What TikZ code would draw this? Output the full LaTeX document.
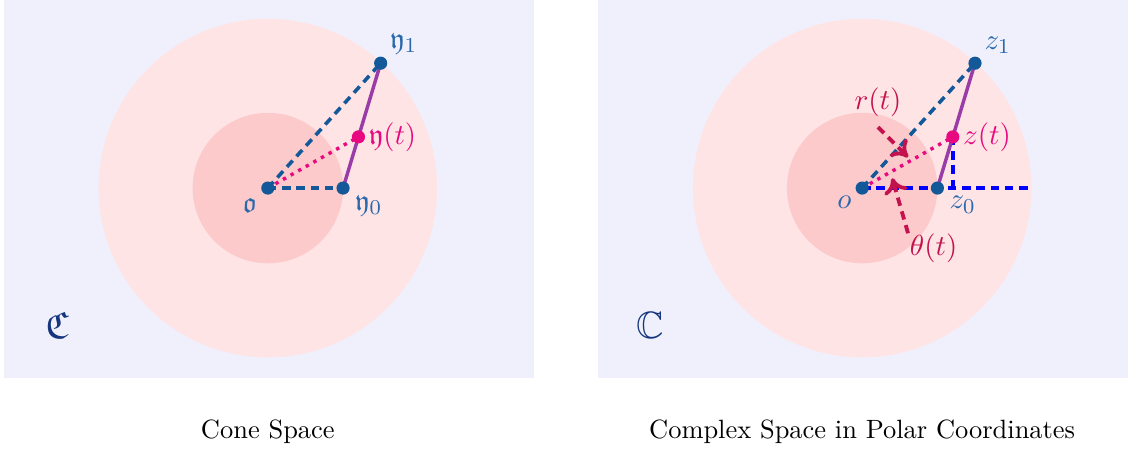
\documentclass[tikz,border=0pt]{standalone}
\usepackage{amssymb}
\usetikzlibrary{arrows.meta, positioning, calc}
\definecolor{lavandafondo}{HTML}{F0F0FD}
\definecolor{rosaclaro}{HTML}{FEE4E5}
\definecolor{rosamedio}{HTML}{FDCACB}
\definecolor{azulpunto}{HTML}{13599A}
\definecolor{azuletiqueta}{HTML}{2A68AC}
\definecolor{magentapunto}{HTML}{E8087F}
\definecolor{moradocamino}{HTML}{9A3CA7}
\definecolor{carmesipolar}{HTML}{C4124F}
\definecolor{azulmarino}{HTML}{16357F}
\colorlet{colFondo}{lavandafondo}
\colorlet{colDiscoExt}{rosaclaro}
\colorlet{colDiscoInt}{rosamedio}
\colorlet{colPunto}{azulpunto}
\colorlet{colEtiqueta}{azuletiqueta}
\colorlet{colMagenta}{magentapunto}
\colorlet{colCamino}{moradocamino}
\colorlet{colPolar}{carmesipolar}
\colorlet{colEje}{blue}
\colorlet{colEspacio}{azulmarino}
\tikzset{
  panelFondo/.style={fill=colFondo, draw=none},
  discoExt/.style={fill=colDiscoExt, draw=none},
  discoInt/.style={fill=colDiscoInt, draw=none},
  puntoBase/.style={circle, fill=colPunto, inner sep=0pt, minimum size=1.75mm},
  puntoMedio/.style={puntoBase, fill=colMagenta},
  lineaRadio/.style={line width=1.35pt, dash pattern=on 3.2pt off 2.2pt, colPunto},
  lineaCamino/.style={line width=1.3pt, colCamino},
  lineaPunteada/.style={line width=1.3pt, dotted, colMagenta},
  lineaEje/.style={line width=1.45pt, dash pattern=on 3.2pt off 2.2pt, colEje},
  flechaPolar/.style={-{To[length=2mm, width=3.2mm]}, line width=1.45pt,
    dash pattern=on 3.2pt off 2.2pt, colPolar},
  etiquetaBase/.style={font=\fontsize{11}{13}\selectfont, inner sep=1pt},
  etiquetaPunto/.style={etiquetaBase, text=colEtiqueta},
  etiquetaMedio/.style={etiquetaBase, text=colMagenta},
  etiquetaPolar/.style={etiquetaBase, text=colPolar},
  etiquetaEspacio/.style={font=\Large, text=colEspacio},
  titulo/.style={font=\normalsize, inner sep=0pt},
}
\begin{document}
\begin{tikzpicture}
    \useasboundingbox (-3.56,-3.48) rectangle (11.54,2.5);

    % Espacio del cono
    \fill[panelFondo] (-3.51,-2.53) rectangle (3.54,2.5);
    \fill[discoExt] (0,0) circle (2.25);
    \fill[discoInt] (0,0) circle (1);
    \coordinate (o1) at (0,0);
    \coordinate (y0) at (1,0);
    \coordinate (y1) at (1.5,1.66);
    \coordinate (yt) at ($(y0)!0.41!(y1)$);
    \draw[lineaRadio] (o1) -- (y0);
    \draw[lineaRadio] (o1) -- (y1);
    \draw[lineaCamino] (y0) -- (y1);
    \draw[lineaPunteada] (o1) -- (yt);
    \node[puntoBase] (po1) at (o1) {};
    \node[puntoBase] (py0) at (y0) {};
    \node[puntoBase] (py1) at (y1) {};
    \node[puntoMedio] (pyt) at (yt) {};
    \node[etiquetaPunto, below left=1pt and 1pt of po1] (eto1) {$\mathfrak{o}$};
    \node[etiquetaPunto, below right=0pt and 1.5pt of py0] (ety0) {$\mathfrak{y}_0$};
    \node[etiquetaPunto, above right=0.5pt and 0.5pt of py1] (ety1) {$\mathfrak{y}_1$};
    \node[etiquetaMedio, right=0pt of pyt] (etyt) {$\mathfrak{y}(t)$};
    \node[etiquetaEspacio] (cono) at (-2.8,-1.83) {$\mathfrak{C}$};
    \node[titulo] (tituloCono) at (0,-3.24) {Cone Space};

    % Espacio complejo en coordenadas polares
    \begin{scope}[xshift=7.9cm]
      \fill[panelFondo] (-3.51,-2.53) rectangle (3.54,2.5);
      \fill[discoExt] (0,0) circle (2.25);
      \fill[discoInt] (0,0) circle (1);
      \coordinate (o2) at (0,0);
      \coordinate (z0) at (1,0);
      \coordinate (z1) at (1.5,1.66);
      \coordinate (zt) at ($(z0)!0.41!(z1)$);
      \coordinate (ejeFin) at (2.25,0);
      \coordinate (pie) at (zt |- o2);
      \draw[lineaRadio] (o2) -- (z1);
      \draw[lineaEje] (o2) -- (ejeFin);
      \draw[lineaEje] (zt) -- (pie);
      \draw[lineaCamino] (z0) -- (z1);
      \draw[lineaPunteada] (o2) -- (zt);
      \node[puntoBase] (po2) at (o2) {};
      \node[puntoBase] (pz0) at (z0) {};
      \node[puntoBase] (pz1) at (z1) {};
      \node[puntoMedio] (pzt) at (zt) {};
      \node[etiquetaPunto, below left=0pt and 1pt of po2] (eto2) {$o$};
      \node[etiquetaPunto, below right=0pt and 1.5pt of pz0] (etz0) {$z_0$};
      \node[etiquetaPunto, above right=0.5pt and 0.5pt of pz1] (etz1) {$z_1$};
      \node[etiquetaMedio, right=0pt of pzt] (etzt) {$z(t)$};
      \node[etiquetaPolar] (etrt) at (0.21,1.14) {$r(t)$};
      \node[etiquetaPolar] (etth) at (0.95,-0.8) {$\theta(t)$};
      \coordinate (inicioR) at (0.21,0.81);
      \coordinate (finR) at (0.61,0.41);
      \coordinate (inicioTh) at (0.61,-0.6);
      \coordinate (finTh) at (0.4,0.13);
      \draw[flechaPolar] (inicioR) -- (finR);
      \draw[flechaPolar] (inicioTh) -- (finTh);
      \node[etiquetaEspacio] (complejo) at (-2.82,-1.82) {$\mathbb{C}$};
      \node[titulo] (tituloComplejo) at (0,-3.24) {Complex Space in Polar Coordinates};
    \end{scope}
  \end{tikzpicture}
\end{document}
